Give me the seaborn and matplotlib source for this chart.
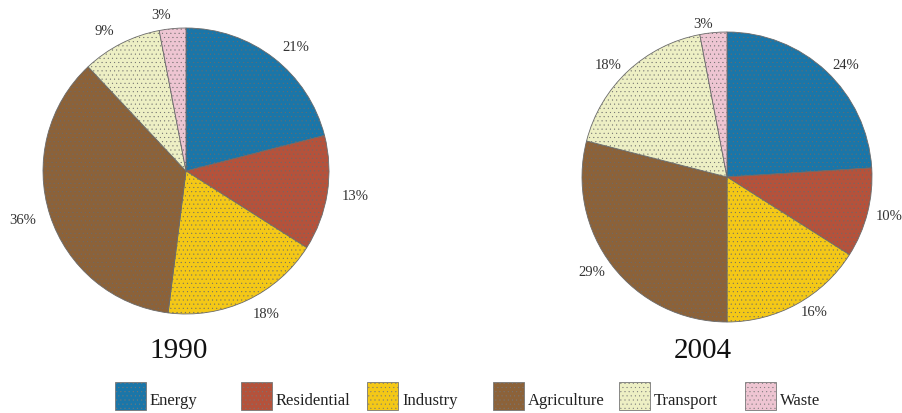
import matplotlib
matplotlib.use("Agg")
import matplotlib.pyplot as plt
from matplotlib.patches import Rectangle
import seaborn as sns

sectors = ["Energy", "Residential", "Industry", "Agriculture", "Transport", "Waste"]
share_1990 = [21, 13, 18, 36, 9, 3]
share_2004 = [24, 10, 16, 29, 18, 3]
years = ["1990", "2004"]
colors = ["#1a76a9", "#b5523b", "#f4c817", "#8c6239", "#edefc4", "#eec5d2"]

sns.set_theme(style="white")
plt.rcParams["font.family"] = ["Liberation Serif", "DejaVu Serif"]
plt.rcParams["hatch.linewidth"] = 0.25

W, H = 903, 414
fig = plt.figure(figsize=(W / 100, H / 100), dpi=100)
fig.patch.set_facecolor("white")

palette = sns.color_palette(colors)


def fit_axes(ax, cx, cy, r, half=180):
    # place a square axes centred on (cx, cy) in pixels from the top-left, pie radius r
    ax.set_position([(cx - half) / W, (H - cy - half) / H, 2 * half / W, 2 * half / H])
    lim = half / r
    ax.set_xlim(-lim, lim)
    ax.set_ylim(-lim, lim)
    ax.set_aspect("equal")
    ax.set_axis_off()


# (centre x, centre y, radius, label distance, year label x)
layout = [(186, 172, 143, 1.10, 179), (727, 178, 145, 1.06, 703)]
for (cx, cy, r, ldist, title_x), values, year in zip(layout, [share_1990, share_2004], years):
    ax = fig.add_axes([0, 0, 0.1, 0.1])
    wedges, texts = ax.pie(
        values,
        colors=palette,
        startangle=90,
        counterclock=False,
        labels=[f"{v}%" for v in values],
        labeldistance=ldist,
        wedgeprops=dict(edgecolor="#6b6b6b", linewidth=0.6),
        textprops=dict(fontsize=10.5, color="#333333"),
    )
    for w in wedges:
        w.set_hatch("....")
    for t in texts:
        t.set_clip_on(False)
    fit_axes(ax, cx, cy, r)
    fig.text(title_x / W, 1 - 351 / H, year, ha="center", va="center",
             fontsize=21, color="#111111")

# legend row
lax = fig.add_axes([0, 0, 1, 1], zorder=-1)
lax.set_xlim(0, W)
lax.set_ylim(H, 0)
lax.set_axis_off()
for i, (name, col) in enumerate(zip(sectors, colors)):
    x0 = 115 + i * 126
    lax.add_patch(Rectangle((x0, 383), 31, 28, facecolor=col, edgecolor="#777777",
                            linewidth=0.6, hatch="...."))
    lax.text(x0 + 35, 405, name, ha="left", va="baseline", fontsize=12, color="#222222")

fig.savefig("out.png", dpi=100)
